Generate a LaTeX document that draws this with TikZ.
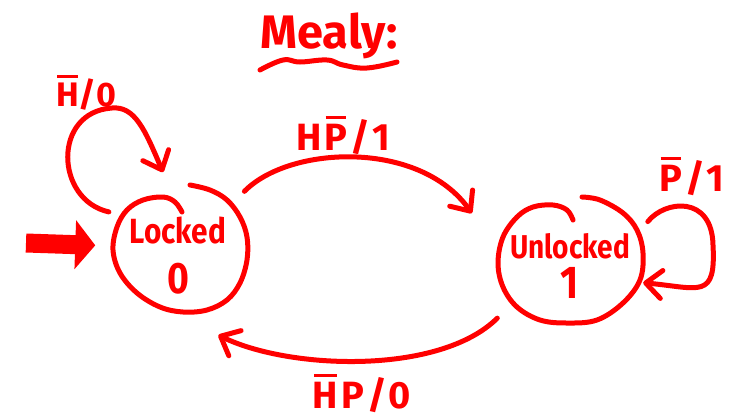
\documentclass[tikz,border=0pt]{standalone}
\usepackage{fontspec}
\setmainfont{Fira Sans}
\newfontfamily\narrowfont[FakeStretch=0.85]{Fira Sans}
\usetikzlibrary{arrows.meta,shapes.geometric}
\definecolor{ink}{RGB}{255,0,0}
% a letter with a heavy bar above it (negated input)
\newcommand{\ovl}[1]{\setbox0\hbox{#1}\rlap{\hbox to \wd0{\hss\rule[\dimexpr\ht0+0.13em\relax]{0.9\wd0}{0.085em}\hss}}\box0}
% state name and output, each centred, raised by the given amounts, in a box of no size
\newcommand{\statetext}[4]{%
  \makebox[0pt]{\raisebox{#3}[0pt][0pt]{#1}}%
  \makebox[0pt]{\raisebox{#4}[0pt][0pt]{#2}}}
\tikzset{
  pen/.style={draw=ink, line width=5pt, line cap=round, line join=round},
  state/.style={ellipse, inner sep=0pt, outer sep=0pt, text=ink},
  trans/.style={pen, -{Straight Barb[length=16pt, width=28pt, round]}},
  lbl/.style={text=ink, inner sep=0pt, font=\bfseries\fontsize{38}{38}\selectfont},
}
\begin{document}
\begin{tikzpicture}[x=1pt, y=-1pt]
  \useasboundingbox (0,0) rectangle (731,418);
  % title with a wavy underline
  \node[lbl, font=\bfseries\fontsize{47}{47}\selectfont, anchor=base] (title) at (329,48) {Mealy:};
  \draw[pen] plot[smooth, tension=0.7] coordinates {(260,70) (283,60) (300,62) (327,60) (343,65) (367,68) (397,62)};
  % states (the border is drawn below as one open stroke)
  \node[state, minimum width=130pt, minimum height=120pt] (L) at (178,255)
    {\statetext{\narrowfont\bfseries\fontsize{35}{35}\selectfont Locked}{\narrowfont\bfseries\fontsize{44}{44}\selectfont 0}{12pt}{-38pt}};
  \node[state, minimum width=144pt, minimum height=118pt] (U) at (570,257)
    {\statetext{\narrowfont\bfseries\fontsize{33}{33}\selectfont Unlocked}{\narrowfont\bfseries\fontsize{46}{46}\selectfont 1}{-1pt}{-41pt}};
  \begin{scope}[shift={(L.center)}]
    \draw[pen] plot[smooth, tension=0.6] coordinates {(12,-70) (32,-65) (49,-55) (62,-38) (69,-18) (69,5) (62,28) (49,45) (29,55) (5,57) (-18,52) (-41,38) (-58,18) (-65,-5) (-61,-28) (-51,-45) (-35,-55) (-15,-58) (-3,-53) (4,-43)};
  \end{scope}
  \begin{scope}[shift={(U.center)}]
    \draw[pen] plot[smooth, tension=0.6] coordinates {(12,-60) (30,-57) (53,-44) (67,-27) (73,-4) (70,23) (53,46) (27,63) (-3,66) (-30,63) (-53,50) (-67,30) (-72,6) (-67,-20) (-53,-40) (-37,-50) (-17,-52) (-3,-47) (3,-37)};
  \end{scope}
  % initial state marker
  \coordinate (init) at (26,243);
  \draw[ink, line width=19pt, -{Triangle[length=20pt, width=48pt]}, shorten >=18.5pt] (init) -- (L.172);
  % transitions
  \draw[trans, shorten <=29.5pt, shorten >=46pt] (L.43) .. controls (290,145) and (420,140) .. (U.175);
  \draw[trans, shorten <=29pt, shorten >=46pt] (U.218) .. controls (440,375) and (290,370) .. (L.269);
  \draw[trans, shorten <=20pt, shorten >=25pt] (L.142) .. controls (55,200) and (52,112) .. (112,108) .. controls (135,106) and (145,130) .. (L.95);
  \draw[trans, shorten <=17.5pt, shorten >=8pt] (U.18) .. controls (665,200) and (712,195) .. (713,245) .. controls (716,300) and (700,288) .. (U.339);
  % transition labels
  \node[lbl, anchor=base] (lab1) at (343,150) {H\hspace{3pt}\ovl{P}\hspace{3pt}/\hspace{2pt}1};
  \node[lbl, anchor=base] (lab2) at (362,408) {\ovl{H}\hspace{3pt}P\hspace{3pt}/\hspace{2pt}0};
  \node[lbl, font=\bfseries\fontsize{34}{34}\selectfont, anchor=base] (lab3) at (86,106) {\ovl{H}/0};
  \node[lbl, anchor=base] (lab4) at (692,191) {\ovl{P}\hspace{3pt}/\hspace{2pt}1};
\end{tikzpicture}
\end{document}
